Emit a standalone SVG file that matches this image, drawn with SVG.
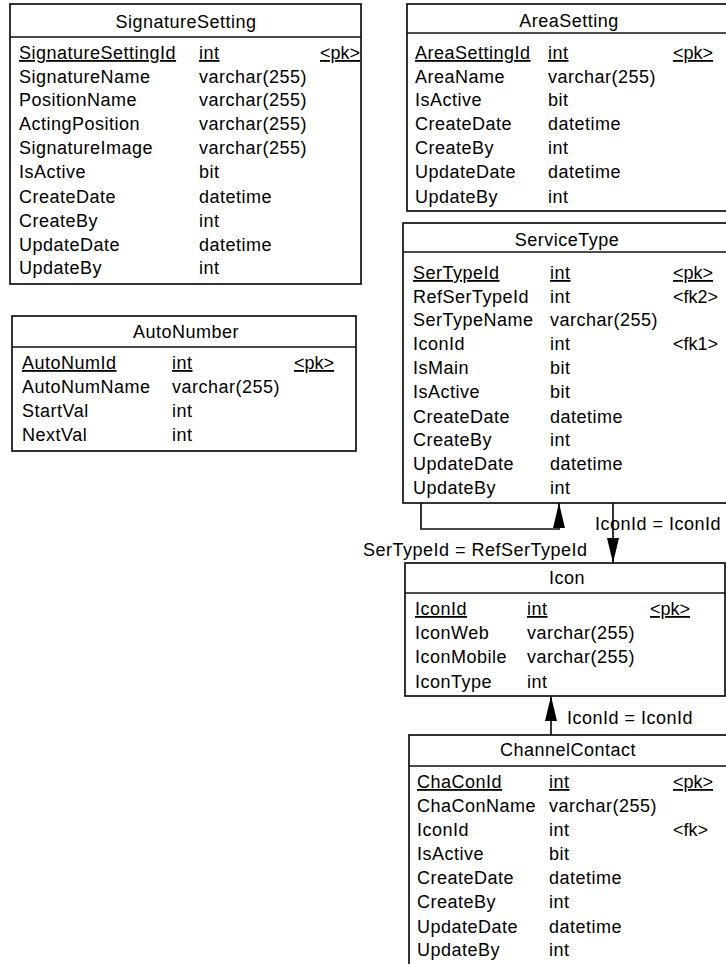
<svg xmlns="http://www.w3.org/2000/svg" width="726" height="964" viewBox="0 0 726 964">
  <style>
    .box { fill: #ffffff; stroke: #111111; stroke-width: 1.7; }
    .sep { stroke: #111111; stroke-width: 1.7; }
    text { font-family: "Liberation Sans", Arial, sans-serif; font-size: 18px; fill: #000000; letter-spacing: 0.5px; }
    .title { text-anchor: middle; }
    .pk { text-decoration: underline; }
    .tag { letter-spacing: 0px; }
    .edge { fill: none; stroke: #111111; stroke-width: 1.7; }
  </style>
  <defs>
    <marker id="arrow" viewBox="0 0 25 12" markerWidth="25" markerHeight="12" refX="25" refY="6" orient="auto" markerUnits="userSpaceOnUse">
      <path d="M0,0 L25,6 L0,12 z" fill="#000000"/>
    </marker>
  </defs>

  <rect width="726" height="964" fill="#ffffff"/>

  <!-- SignatureSetting -->
  <g id="SignatureSetting">
    <rect class="box" x="10" y="4" width="351" height="280"/>
    <line class="sep" x1="10" y1="37" x2="361" y2="37"/>
    <text class="title" x="186" y="28">SignatureSetting</text>
    <text class="pk" x="19" y="59">SignatureSettingId</text><text class="pk" x="199" y="59">int</text><text class="pk tag" x="320" y="59">&lt;pk&gt;</text>
    <text x="19" y="83">SignatureName</text><text x="199" y="83">varchar(255)</text>
    <text x="19" y="106">PositionName</text><text x="199" y="106">varchar(255)</text>
    <text x="19" y="130">ActingPosition</text><text x="199" y="130">varchar(255)</text>
    <text x="19" y="154">SignatureImage</text><text x="199" y="154">varchar(255)</text>
    <text x="19" y="178">IsActive</text><text x="199" y="178">bit</text>
    <text x="19" y="203">CreateDate</text><text x="199" y="203">datetime</text>
    <text x="19" y="227">CreateBy</text><text x="199" y="227">int</text>
    <text x="19" y="251">UpdateDate</text><text x="199" y="251">datetime</text>
    <text x="19" y="274">UpdateBy</text><text x="199" y="274">int</text>
  </g>

  <!-- AutoNumber -->
  <g id="AutoNumber">
    <rect class="box" x="12" y="316" width="344" height="135"/>
    <line class="sep" x1="12" y1="347" x2="356" y2="347"/>
    <text class="title" x="186" y="338">AutoNumber</text>
    <text class="pk" x="22" y="369">AutoNumId</text><text class="pk" x="172" y="369">int</text><text class="pk tag" x="294" y="369">&lt;pk&gt;</text>
    <text x="22" y="393">AutoNumName</text><text x="172" y="393">varchar(255)</text>
    <text x="22" y="417">StartVal</text><text x="172" y="417">int</text>
    <text x="22" y="441">NextVal</text><text x="172" y="441">int</text>
  </g>

  <!-- AreaSetting -->
  <g id="AreaSetting">
    <rect class="box" x="407" y="4" width="324" height="207"/>
    <line class="sep" x1="407" y1="33" x2="731" y2="33"/>
    <text class="title" x="569" y="27">AreaSetting</text>
    <text class="pk" x="415" y="59">AreaSettingId</text><text class="pk" x="548" y="59">int</text><text class="pk tag" x="673" y="59">&lt;pk&gt;</text>
    <text x="415" y="83">AreaName</text><text x="548" y="83">varchar(255)</text>
    <text x="415" y="106">IsActive</text><text x="548" y="106">bit</text>
    <text x="415" y="130">CreateDate</text><text x="548" y="130">datetime</text>
    <text x="415" y="154">CreateBy</text><text x="548" y="154">int</text>
    <text x="415" y="178">UpdateDate</text><text x="548" y="178">datetime</text>
    <text x="415" y="203">UpdateBy</text><text x="548" y="203">int</text>
  </g>

  <!-- ServiceType -->
  <g id="ServiceType">
    <rect class="box" x="403" y="223" width="328" height="280"/>
    <line class="sep" x1="403" y1="252" x2="731" y2="252"/>
    <text class="title" x="567" y="246">ServiceType</text>
    <text class="pk" x="413" y="279">SerTypeId</text><text class="pk" x="550" y="279">int</text><text class="pk tag" x="673" y="279">&lt;pk&gt;</text>
    <text x="413" y="303">RefSerTypeId</text><text x="550" y="303">int</text><text class="tag" x="673" y="303">&lt;fk2&gt;</text>
    <text x="413" y="326">SerTypeName</text><text x="550" y="326">varchar(255)</text>
    <text x="413" y="350">IconId</text><text x="550" y="350">int</text><text class="tag" x="673" y="350">&lt;fk1&gt;</text>
    <text x="413" y="374">IsMain</text><text x="550" y="374">bit</text>
    <text x="413" y="398">IsActive</text><text x="550" y="398">bit</text>
    <text x="413" y="423">CreateDate</text><text x="550" y="423">datetime</text>
    <text x="413" y="446">CreateBy</text><text x="550" y="446">int</text>
    <text x="413" y="470">UpdateDate</text><text x="550" y="470">datetime</text>
    <text x="413" y="494">UpdateBy</text><text x="550" y="494">int</text>
  </g>

  <!-- Icon -->
  <g id="Icon">
    <rect class="box" x="405" y="563" width="320" height="133"/>
    <line class="sep" x1="405" y1="593" x2="725" y2="593"/>
    <text class="title" x="567" y="584">Icon</text>
    <text class="pk" x="415" y="615">IconId</text><text class="pk" x="527" y="615">int</text><text class="pk tag" x="650" y="615">&lt;pk&gt;</text>
    <text x="415" y="639">IconWeb</text><text x="527" y="639">varchar(255)</text>
    <text x="415" y="663">IconMobile</text><text x="527" y="663">varchar(255)</text>
    <text x="415" y="688">IconType</text><text x="527" y="688">int</text>
  </g>

  <!-- ChannelContact -->
  <g id="ChannelContact">
    <rect class="box" x="409" y="735" width="320" height="240"/>
    <line class="sep" x1="409" y1="766" x2="729" y2="766"/>
    <text class="title" x="568" y="756">ChannelContact</text>
    <text class="pk" x="417" y="788">ChaConId</text><text class="pk" x="549" y="788">int</text><text class="pk tag" x="673" y="788">&lt;pk&gt;</text>
    <text x="417" y="812">ChaConName</text><text x="549" y="812">varchar(255)</text>
    <text x="417" y="836">IconId</text><text x="549" y="836">int</text><text class="tag" x="673" y="836">&lt;fk&gt;</text>
    <text x="417" y="860">IsActive</text><text x="549" y="860">bit</text>
    <text x="417" y="884">CreateDate</text><text x="549" y="884">datetime</text>
    <text x="417" y="908">CreateBy</text><text x="549" y="908">int</text>
    <text x="417" y="933">UpdateDate</text><text x="549" y="933">datetime</text>
    <text x="417" y="956">UpdateBy</text><text x="549" y="956">int</text>
  </g>

  <!-- References -->
  <g id="connectors">
    <path class="edge" d="M421,503 L421,529 L559,529 L559,503" marker-end="url(#arrow)"/>
    <text x="363" y="556">SerTypeId = RefSerTypeId</text>
    <path class="edge" d="M613,503 L613,563" marker-end="url(#arrow)"/>
    <text x="595" y="530">IconId = IconId</text>
    <path class="edge" d="M551,735 L551,696" marker-end="url(#arrow)"/>
    <text x="567" y="724">IconId = IconId</text>
  </g>
</svg>
